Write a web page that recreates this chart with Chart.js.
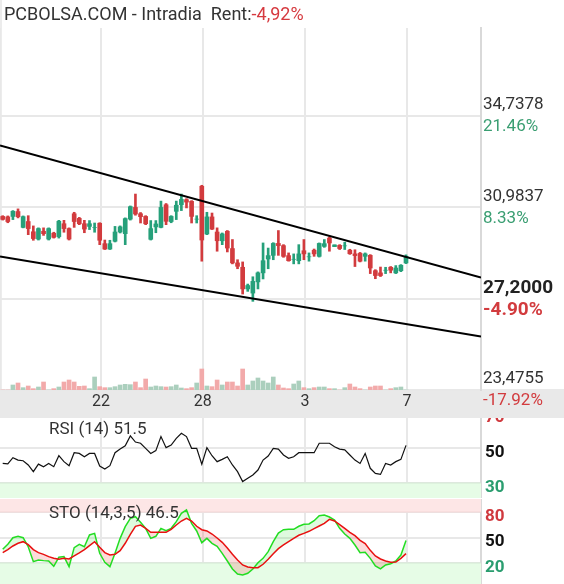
<!DOCTYPE html>
<html>
<head>
<meta charset="utf-8">
<script src="https://cdn.jsdelivr.net/npm/chart.js@4.4.1/dist/chart.umd.min.js"></script>
<style>
  body { margin: 0; background: #fff; font-family: Roboto, sans-serif; }
  #marco { position: relative; width: 564px; height: 584px; overflow: hidden; }
  canvas { position: absolute; left: 0; }
  .txt { position: absolute; color: #333; white-space: pre; }
</style>
</head>
<body>
<div id="marco">
  <div style="position:absolute;left:0;top:389px;width:564px;height:29px;background:#e9e9e9"></div>
  <div style="position:absolute;left:0;top:0;width:2px;height:389px;background:#ececec"></div>
  <canvas id="cPrecio" style="top:0" width="564" height="418"></canvas>
  <canvas id="cRsi" style="top:418px" width="564" height="80"></canvas>
  <canvas id="cSto" style="top:499px" width="564" height="85"></canvas>
  <div class="txt" style="left:4px;top:5px;font-size:18px;line-height:18px">PCBOLSA.COM - Intradia  Rent:<span style="color:#d6393f">-4,92%</span></div>
  <div class="txt" id="tRsi" style="left:49px;top:420px;font-size:17px;line-height:17px"></div>
  <div class="txt" id="tSto" style="left:49px;top:504px;font-size:17px;line-height:17px"></div>
</div>
<script>
// velas intradia (apertura, maximo, minimo, cierre)
const apertura = [30.61,30.59,30.61,30.81,30.16,30.40,29.98,29.68,30.00,29.68, 29.92,29.78,30.31,30.11,30.72,30.53,30.31,30.20,30.15,30.33,
  29.49,29.27,29.59,29.97,29.90,30.50,30.98,30.72,30.61,29.67, 30.18,30.16,31.09,30.40,30.82,31.09,31.30,31.23,30.50,31.85,
  29.89,30.59,29.97,29.61,30.00,29.29,28.70,28.52,27.63,27.46, 27.92,28.29,28.86,29.01,29.50,29.41,29.00,28.85,28.79,29.20,
  28.95,29.22,28.97,29.38,29.72,29.37,29.42,29.40,29.22,29.07, 29.09,28.97,29.01,28.38,28.29,28.40,28.52,28.29,28.38,28.70];
const maximo = [30.64,30.63,30.85,30.92,30.63,30.64,30.22,30.14,30.14,30.14, 29.96,30.45,30.45,30.14,30.78,30.57,30.45,30.44,30.34,30.35,
  29.64,29.63,30.20,30.22,30.55,31.04,31.53,30.77,30.64,30.44, 30.44,31.24,31.14,30.64,31.24,31.53,31.34,31.26,30.64,31.89,
  30.78,30.75,30.14,29.93,30.03,29.66,28.83,28.74,27.83,28.13, 28.33,29.52,29.31,29.53,30.03,29.45,29.11,29.07,29.45,29.66,
  29.11,29.27,29.52,29.66,29.77,29.44,29.45,29.55,29.26,29.24, 29.13,29.11,29.04,28.42,28.53,28.52,28.55,28.59,28.63,29.03];
const minimo = [30.46,30.35,30.48,30.55,30.14,29.86,29.63,29.64,29.83,29.64, 29.72,29.72,29.96,29.64,30.16,30.27,29.94,30.07,29.96,29.45,
  29.25,29.25,29.56,29.93,29.45,30.46,30.66,30.34,30.27,29.64, 29.94,30.14,30.27,30.35,30.48,30.85,30.96,30.34,30.34,28.77,
  29.86,30.07,29.18,29.45,29.15,28.66,28.46,27.42,27.53,27.12, 27.63,28.04,28.46,28.83,29.01,28.93,28.77,28.66,28.66,28.83,
  28.77,28.97,28.94,29.34,29.18,29.37,29.25,29.25,29.05,28.55, 28.74,28.77,28.26,28.05,28.14,28.26,28.29,28.26,28.34,28.67];
const cierre = [30.49,30.40,30.82,30.60,30.60,30.11,29.70,30.11,29.90,30.11, 29.75,30.41,30.11,29.68,30.40,30.31,30.09,30.31,30.15,29.63,
  29.27,29.49,29.97,30.18,30.52,31.01,30.71,30.60,30.31,30.11, 30.30,30.98,30.41,30.61,31.07,31.31,31.20,30.61,30.50,29.64,
  30.59,30.09,29.61,29.89,29.31,28.70,28.56,27.63,27.77,27.94, 28.29,28.79,29.00,29.50,29.41,28.97,28.79,28.85,29.07,29.07,
  28.95,29.07,29.50,29.49,29.52,29.44,29.29,29.40,29.08,29.00, 28.77,29.07,28.49,28.18,28.18,28.40,28.40,28.49,28.60,28.97];
const volumen = [0,0,15,21,7,12,4,9,24,0, 4,9,24,30,24,11,12,4,39,10, 7,7,10,15,17,16,24,7,33,9,
  12,10,9,10,15,6,4,7,21,63, 12,10,30,15,24,24,12,63,15,27, 36,27,21,39,15,6,4,18,27,7,
  4,7,9,9,4,4,0,7,18,9, 4,0,9,12,12,0,4,7,9,0];

// directrices del canal (valor en el borde izquierdo y derecho)
const canalSup = [33.53, 28.10];
const canalInf = [28.96, 25.67];

// indicadores
const rsi = [41.2,40.9,44.5,43.1,42.7,40.3,36.5,40.8,39.3,41.2, 39.3,45.6,42.2,39.9,47.3,46.9,45.0,46.9,46.9,39.7,
  38.0,39.9,47.3,49.4,51.3,56.9,53.4,52.7,49.8,46.9, 48.5,56.5,50.2,51.7,55.5,58.4,56.5,49.8,49.8,40.7,
  50.2,45.6,42.2,43.5,45.0,40.3,36.5,30.8,32.7,34.6, 37.4,43.1,45.4,49.8,49.4,46.0,44.1,45.0,47.3,47.3,
  47.3,47.3,52.7,52.7,52.7,50.7,49.4,48.9,46.0,43.1, 41.2,46.9,38.4,35.5,34.9,41.2,40.3,42.2,43.5,51.5];
const stoK = [36.1,42.0,49.8,51.4,49.8,39.2,21.6,23.6,22.8,22.4, 16.1,26.7,27.5,15.7,38.1,42.0,39.2,53.0,54.9,31.4,
  20.8,15.7,31.4,49.0,62.8,72.6,74.5,67.9,60.8,49.0, 51.4,60.8,58.1,60.8,68.6,78.4,82.4,66.7,57.7,43.9,
  49.0,43.2,39.6,31.4,22.4,13.0,7.1,5.9,7.9,13.0, 20.4,25.5,33.4,45.1,55.3,59.2,59.6,59.6,63.2,65.5,
  65.9,69.8,75.7,76.5,74.1,70.6,60.8,54.1,49.0,41.2, 32.2,32.6,25.5,16.5,13.0,17.7,19.2,22.4,29.4,46.5];
const stoD = [32.2,35.7,40.0,43.2,45.1,41.6,35.7,32.2,30.2,27.5, 25.5,24.3,25.5,24.7,28.3,31.8,35.7,40.4,45.1,38.5,
  32.2,29.4,30.2,34.5,43.2,53.7,63.2,64.7,60.8,56.1, 56.1,56.1,56.1,59.6,64.7,69.4,72.6,69.4,63.2,59.2,
  57.7,54.1,49.4,44.3,37.7,30.2,23.6,17.7,15.3,14.5, 14.5,18.5,24.3,31.0,36.9,41.2,45.1,49.0,52.6,54.9,
  57.3,60.4,63.5,66.7,71.4,69.4,65.1,60.8,56.1,52.2, 46.7,42.8,34.9,28.3,24.7,22.4,20.8,21.2,25.5,31.0];

// eje de tiempo y niveles de precio
const dias = ['22', '28', '3', '7'];
const diasPos = [19.25, 39.2, 59.2, 79.2];
const nivelesPrecio = [23.4755, 27.2, 30.9837, 34.7378];
const ultimo = 27.2;
const cierreAnterior = 28.60;

const xMin = -0.53, xMax = 93.69;
const yMin = 23.4755, yMax = 38.355;
const medioRenglon = 0.45;   // media linea de texto, en unidades de precio
const VERDE = '#26a07a', ROJO = '#d23b3e';
const GRIS = '#e8e8e8';

Chart.defaults.font.family = 'Roboto';
Chart.defaults.animation = false;
Chart.defaults.plugins.legend.display = false;
Chart.defaults.plugins.tooltip.enabled = false;

const sube = i => cierre[i] >= apertura[i];
const fmtPrecio = v => v.toFixed(4).replace('.', ',');
const fmtPct = v => ((v / cierreAnterior - 1) * 100).toFixed(2) + '%';
const nivelDe = i => nivelesPrecio[Math.floor(i / 2)];

new Chart(document.getElementById('cPrecio'), {
  type: 'bar',
  data: {
    datasets: [
      { type: 'line', data: [{ x: xMin, y: canalSup[0] }, { x: xMax, y: canalSup[1] }], borderColor: '#000', borderWidth: 2, pointRadius: 0, order: 0 },
      { type: 'line', data: [{ x: xMin, y: canalInf[0] }, { x: xMax, y: canalInf[1] }], borderColor: '#000', borderWidth: 2, pointRadius: 0, order: 0 },
      { data: cierre.map((c, i) => ({ x: i, y: [apertura[i], c] })), backgroundColor: ctx => sube(ctx.dataIndex) ? VERDE : ROJO,
        barThickness: 4, grouped: false, order: 1 },
      { data: maximo.map((h, i) => ({ x: i, y: [minimo[i], h] })), backgroundColor: ctx => sube(ctx.dataIndex) ? VERDE : ROJO,
        barThickness: 2, grouped: false, order: 2 },
      { data: volumen.map((v, i) => ({ x: i, y: v })), yAxisID: 'yv', backgroundColor: ctx => sube(ctx.dataIndex) ? '#abcfbd' : '#f2aaaa',
        barThickness: 4, grouped: false, order: 3 }
    ]
  },
  options: {
    responsive: false,
    devicePixelRatio: 1,
    layout: { padding: { top: 28, right: 0, left: 0, bottom: 0 } },
    scales: {
      x: {
        type: 'linear', min: xMin, max: xMax, offset: false,
        afterBuildTicks: s => { s.ticks = [xMin, ...diasPos].map(v => ({ value: v })); },
        afterFit: s => { s.height = 28; s.paddingLeft = 0; s.paddingRight = 0; },
        ticks: { autoSkip: false, maxRotation: 0, padding: 2, color: '#333', font: { size: 16 },
          callback: (v, i) => i === 0 ? '' : dias[i - 1] },
        grid: { color: GRIS, lineWidth: 2, drawTicks: false, offset: false },
        border: { display: false }
      },
      // rejilla horizontal
      y: {
        position: 'right', weight: 0, min: yMin, max: yMax,
        afterBuildTicks: s => { s.ticks = nivelesPrecio.map(v => ({ value: v })); },
        afterFit: s => { s.width = 0; s.paddingTop = 0; s.paddingBottom = 0; },
        ticks: { display: false },
        grid: { color: GRIS, lineWidth: 2, drawTicks: false },
        border: { display: false }
      },
      // etiquetas: precio encima de la linea, porcentaje debajo
      yl: {
        position: 'right', weight: 1, min: yMin, max: yMax,
        afterBuildTicks: s => {
          s.ticks = [];
          nivelesPrecio.forEach(v => s.ticks.push({ value: v + medioRenglon }, { value: v - medioRenglon }));
        },
        afterFit: s => { s.width = 83; s.paddingTop = 0; s.paddingBottom = 0; },
        ticks: {
          autoSkip: false, padding: 2,
          callback: (v, i) => i % 2 === 0 ? fmtPrecio(nivelDe(i)) : fmtPct(nivelDe(i)),
          font: ctx => nivelDe(ctx.index) === ultimo ? { size: 19, weight: 'bold' } : { size: 17 },
          color: ctx => {
            const v = nivelDe(ctx.index);
            if (ctx.index % 2 === 0) return v === ultimo ? '#222' : '#333';
            return v >= cierreAnterior ? '#3a9e72' : '#d23b3e';
          }
        },
        grid: { display: false, drawTicks: false },
        border: { display: true, color: '#d9d9d9', width: 2 }
      },
      yv: { display: false, min: 0, max: 1086 }
    }
  }
});

function ejeX() {
  return {
    type: 'linear', min: xMin, max: xMax,
    afterBuildTicks: s => { s.ticks = diasPos.map(v => ({ value: v })); },
    afterFit: s => { s.height = 0; s.paddingLeft = 0; s.paddingRight = 0; },
    ticks: { display: false },
    grid: { color: GRIS, lineWidth: 2, drawTicks: false },
    border: { display: true, color: '#dedede', width: 2 }
  };
}

function ejeY(min, max, niveles, colores, desplaz) {
  return {
    position: 'right', min: min, max: max,
    afterBuildTicks: s => { s.ticks = niveles.map(v => ({ value: v })); },
    afterFit: s => { s.width = 83; s.paddingTop = 0; s.paddingBottom = 0; },
    ticks: { autoSkip: false, padding: 4, labelOffset: desplaz, font: { size: 17, weight: 'bold' },
      color: ctx => colores[niveles.indexOf(ctx.tick.value)] },
    grid: { color: GRIS, lineWidth: 2, drawTicks: false },
    border: { display: true, color: '#d9d9d9', width: 2 }
  };
}

document.getElementById('tRsi').textContent = 'RSI (14) ' + rsi[rsi.length - 1];
new Chart(document.getElementById('cRsi'), {
  type: 'line',
  data: {
    datasets: [
      { data: rsi.map((v, i) => ({ x: i, y: v })), borderColor: '#111', borderWidth: 1.2, pointRadius: 0, order: 0 },
      { data: [{ x: xMin, y: 30 }, { x: xMax, y: 30 }], borderColor: '#d3e8d3', borderWidth: 1,
        backgroundColor: '#e6fce6', fill: 'start', pointRadius: 0, order: 1 }
    ]
  },
  options: {
    responsive: false,
    devicePixelRatio: 1,
    layout: { padding: 0 },
    scales: {
      x: ejeX(),
      y: ejeY(21.43, 67.14, [30, 50, 70], ['#2a9d6f', '#111', '#d0393e'], 5)
    }
  }
});

document.getElementById('tSto').textContent = 'STO (14,3,5) ' + stoK[stoK.length - 1];
new Chart(document.getElementById('cSto'), {
  type: 'line',
  data: {
    datasets: [
      { data: stoD.map((v, i) => ({ x: i, y: v })), borderColor: '#e81010', borderWidth: 1.5, pointRadius: 0, order: 0 },
      { data: stoK.map((v, i) => ({ x: i, y: v })), borderColor: '#22dd22', borderWidth: 1.5, pointRadius: 0, order: 1,
        fill: { target: 0, above: 'rgba(34,221,34,0.15)', below: 'rgba(232,16,16,0.15)' } },
      { data: [{ x: xMin, y: 80 }, { x: xMax, y: 80 }], borderColor: '#f3d6d6', borderWidth: 1,
        backgroundColor: '#fde6e6', fill: 'end', pointRadius: 0, order: 2 },
      { data: [{ x: xMin, y: 20 }, { x: xMax, y: 20 }], borderColor: '#d3e8d3', borderWidth: 1,
        backgroundColor: '#e6fce6', fill: 'start', pointRadius: 0, order: 2 }
    ]
  },
  options: {
    responsive: false,
    devicePixelRatio: 1,
    layout: { padding: 0 },
    scales: {
      x: ejeX(),
      y: ejeY(-4.7, 95.3, [20, 50, 80], ['#2a9d6f', '#111', '#d0393e'], 4.5)
    }
  }
});
</script>
</body>
</html>
